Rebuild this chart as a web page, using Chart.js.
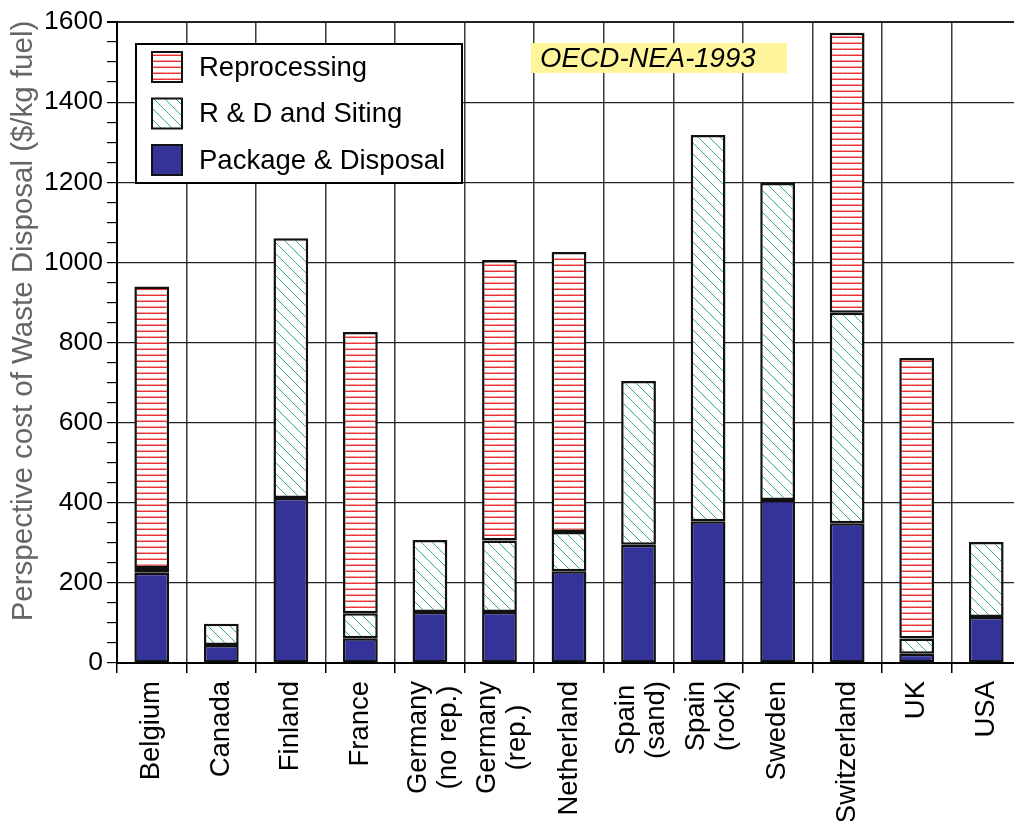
<!DOCTYPE html>
<html>
<head>
<meta charset="utf-8">
<script src="https://cdn.jsdelivr.net/npm/chart.js@4.4.0/dist/chart.umd.min.js"></script>
<style>
  html, body { margin: 0; padding: 0; background: #fff; overflow: hidden; }
  #wrap { width: 1022px; height: 821px; }
</style>
</head>
<body>
<div id="wrap"><canvas id="wasteChart" width="1022" height="821"></canvas></div>
<script>
// countries (multi-line labels as arrays)
const countries = [
    'Belgium', 'Canada', 'Finland', 'France', ['Germany', '(no rep.)'], ['Germany', '(rep.)'],
    'Netherland', ['Spain', '(sand)'], ['Spain', '(rock)'], 'Sweden', 'Switzerland', 'UK', 'USA'
];
// $/kg fuel, stacked segments
const packageDisposal = [225, 45, 412, 62, 127, 127, 229, 295, 354, 407, 349, 23, 115];
const rdSiting        = [12, 53, 648, 62, 180, 179, 98, 409, 964, 791, 525, 38, 187];
const reprocessing    = [703, 0, 0, 702, 0, 700, 699, 0, 0, 0, 699, 700, 0];
const yTicks = [0, 200, 400, 600, 800, 1000, 1200, 1400, 1600];
const yTitle = 'Perspective cost of Waste Disposal ($/kg fuel)';

const FONT = 'Arial, "Liberation Sans", Helvetica, sans-serif';

function makeRedHatch() {
    let c = document.createElement('canvas');
    c.width = 12; c.height = 6;
    let g = c.getContext('2d');
    g.fillStyle = '#fff';
    g.fillRect(0, 0, 12, 6);
    g.fillStyle = '#f7a8a8';
    g.fillRect(0, 0, 12, 1);
    g.fillStyle = '#ee3030';
    g.fillRect(0, 1, 12, 1);
    g.fillStyle = 'rgba(220,60,60,0.35)';
    g.fillRect(5, 0, 1, 2);
    return g.createPattern(c, 'repeat');
}

function makeGreenHatch() {
    let s = 11;
    let c = document.createElement('canvas');
    c.width = s; c.height = s;
    let g = c.getContext('2d');
    g.fillStyle = '#fff';
    g.fillRect(0, 0, s, s);
    g.strokeStyle = '#35b06e';
    g.lineWidth = 1;
    g.beginPath();
    g.moveTo(-1, -1); g.lineTo(s + 1, s + 1);
    g.moveTo(-1, s - 1); g.lineTo(1, s + 1);
    g.moveTo(s - 1, -1); g.lineTo(s + 1, 1);
    g.stroke();
    return g.createPattern(c, 'repeat');
}

const redHatch = makeRedHatch();
const greenHatch = makeGreenHatch();

// legend box, OECD tag, axis title and rotated country labels
const overlayPlugin = {
    id: 'overlay',
    afterDraw(chart) {
        let g = chart.ctx;
        g.save();
        // legend
        g.fillStyle = '#fff';
        g.fillRect(136, 44, 326, 139);
        g.strokeStyle = '#000';
        g.lineWidth = 2;
        g.strokeRect(136, 44, 326, 139);
        let items = [
            { text: 'Reprocessing', fill: redHatch },
            { text: 'R & D and Siting', fill: greenHatch },
            { text: 'Package & Disposal', fill: '#333399' }
        ];
        g.font = '27.5px ' + FONT;
        g.textBaseline = 'middle';
        items.forEach((it, i) => {
            let cy = 67 + i * 46.5;
            g.fillStyle = it.fill;
            g.fillRect(152, cy - 15, 30, 30);
            g.strokeStyle = '#111';
            g.lineWidth = 2;
            g.strokeRect(152, cy - 15, 30, 30);
            g.fillStyle = '#000';
            g.fillText(it.text, 199, cy + 1);
        });
        // OECD tag
        g.fillStyle = '#fff59a';
        g.fillRect(531, 43, 256, 30);
        g.fillStyle = '#000';
        g.font = 'italic 27.5px ' + FONT;
        g.fillText('OECD-NEA-1993', 540, 59);

        // y axis title
        g.save();
        g.translate(24, 321);
        g.rotate(-Math.PI / 2);
        g.font = '29.5px ' + FONT;
        g.fillStyle = '#666';
        g.textAlign = 'center';
        g.textBaseline = 'middle';
        g.fillText(yTitle, 0, 0);
        g.restore();

        // x labels, rotated, top aligned under the axis
        let xs = chart.scales.x;
        g.font = '27.5px ' + FONT;
        g.fillStyle = '#000';
        g.textBaseline = 'middle';
        countries.forEach((lab, i) => {
            let px = xs.getPixelForValue(i);
            g.save();
            g.translate(px, 681);
            g.rotate(-Math.PI / 2);
            if (Array.isArray(lab)) {
                let w = Math.max(...lab.map(t => g.measureText(t).width));
                g.textAlign = 'center';
                g.fillText(lab[0], -w / 2, -12);
                g.fillText(lab[1], -w / 2, 18);
            } else {
                g.textAlign = 'right';
                g.fillText(lab, 0, 0);
            }
            g.restore();
        });
        g.restore();
    }
};

let ctx = document.getElementById('wasteChart').getContext('2d');

new Chart(ctx, {
    type: 'bar',
    data: {
        labels: countries,
        datasets: [{
            label: 'Package & Disposal',
            data: packageDisposal,
            backgroundColor: '#333399',
        }, {
            label: 'R & D and Siting',
            data: rdSiting,
            backgroundColor: greenHatch,
        }, {
            label: 'Reprocessing',
            data: reprocessing,
            backgroundColor: redHatch,
        }]
    },
    options: {
        responsive: false,
        animation: false,
        datasets: {
            bar: {
                borderColor: '#111',
                borderWidth: 2.5,
                borderSkipped: false,
                categoryPercentage: 1.0,
                barPercentage: 0.5,
            }
        },
        layout: {
            padding: { top: 22, right: 1, left: 0, bottom: 0 }
        },
        scales: {
            x: {
                stacked: true,
                afterFit: function (scale) { scale.height = 158; },
                grid: {
                    offset: true,
                    color: '#3a3a3a',
                    lineWidth: 1.5,
                    tickLength: 10,
                    tickColor: '#000',
                },
                border: { color: '#000', width: 2 },
                ticks: {
                    display: false,
                    autoSkip: false,
                }
            },
            y: {
                stacked: true,
                min: 0,
                max: 1600,
                afterFit: function (scale) { scale.width = 117; },
                grid: {
                    color: c => (c.tick && yTicks.includes(c.tick.value)) ? '#222' : 'rgba(0,0,0,0)',
                    lineWidth: c => (c.tick && c.tick.value === 1600) ? 2 : 1.2,
                    tickLength: 10,
                    tickColor: '#000',
                },
                border: { color: '#000', width: 2 },
                ticks: {
                    stepSize: 50,
                    autoSkip: false,
                    color: '#000',
                    font: { family: FONT, size: 26.5 },
                    padding: 4,
                    callback: v => yTicks.includes(v) ? v : ''
                }
            }
        },
        plugins: {
            legend: { display: false },
            tooltip: { enabled: false }
        }
    },
    plugins: [overlayPlugin]
});
</script>
</body>
</html>
